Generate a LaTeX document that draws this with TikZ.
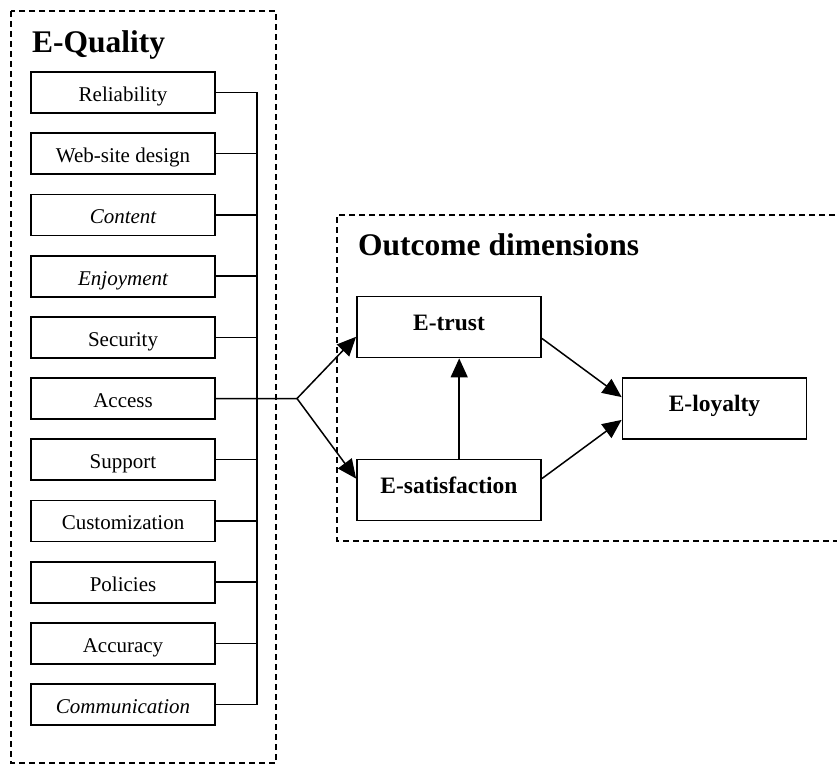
\documentclass[tikz,border=0pt]{standalone}
\usepackage{fontspec}
\setmainfont{Liberation Serif}
\usepackage{tikz}
\usetikzlibrary{arrows.meta,positioning}

\begin{document}
\begin{tikzpicture}[x=1pt,y=-1pt,
 node distance=18.4pt,
 dim/.style={draw,line width=1.8pt,minimum width=184pt,minimum height=41pt,
 inner sep=0pt,text height=18pt,text depth=0pt,font=\fontsize{21}{25}\selectfont},
 outc/.style={draw,line width=1.8pt,minimum width=184pt,minimum height=61pt,
 inner sep=0pt,text height=16pt,text depth=10pt,font=\fontsize{23.5}{28}\selectfont\bfseries},
 ttl/.style={anchor=base west,inner sep=0pt,font=\fontsize{31.5}{36}\selectfont\bfseries},
 group/.style={line width=1.2pt,dash pattern=on 6pt off 4pt},
 arr/.style={-{Triangle[length=19pt,width=17pt]},line width=1.5pt},
 bus/.style={line width=1.5pt}]
\useasboundingbox (0,0) rectangle (837,765);
\draw[group] (11,11) rectangle (276,763);
\draw[group] (845,215) -- (337,215) -- (337,541) -- (845,541);
\node[ttl] (equal) at (32,53) {E-Quality};
\node[ttl] (outcome) at (358,255) {Outcome dimensions};
\node[dim] (rel) at (123,92.5) {Reliability};
\node[dim,below=of rel] (web) {Web-site design};
\node[dim,below=of web] (cont) {\itshape Content};
\node[dim,below=of cont] (enjoy) {\itshape Enjoyment};
\node[dim,below=of enjoy] (sec) {Security};
\node[dim,below=of sec] (acc) {Access};
\node[dim,below=of acc] (supp) {Support};
\node[dim,below=of supp] (cust) {Customization};
\node[dim,below=of cust] (pol) {Policies};
\node[dim,below=of pol] (accur) {Accuracy};
\node[dim,below=of accur] (comm) {\itshape Communication};
\node[outc] (trust) at (449,327) {E-trust};
\node[outc] (sat) at (449,490) {E-satisfaction};
\node[outc] (loyal) at (714.5,408.5) {E-loyalty};
\coordinate (join) at (297,398.5);
\draw[bus] (rel.east) -- ++(41,0) coordinate (b1) |- (comm.east);
\draw[bus] (web.east) -- (b1 |- web.east);
\draw[bus] (cont.east) -- (b1 |- cont.east);
\draw[bus] (enjoy.east) -- (b1 |- enjoy.east);
\draw[bus] (sec.east) -- (b1 |- sec.east);
\draw[bus] (acc.east) -- (join);
\draw[bus] (supp.east) -- (b1 |- supp.east);
\draw[bus] (cust.east) -- (b1 |- cust.east);
\draw[bus] (pol.east) -- (b1 |- pol.east);
\draw[bus] (accur.east) -- (b1 |- accur.east);
\draw[arr] (join) -- (trust.186);
\draw[arr] (join) -- (sat.173);
\draw[arr] (sat.72) -- (trust.288);
\draw[arr] (trust.353) -- (loyal.173);
\draw[arr] (sat.7) -- (loyal.187);
\end{tikzpicture}
\end{document}
